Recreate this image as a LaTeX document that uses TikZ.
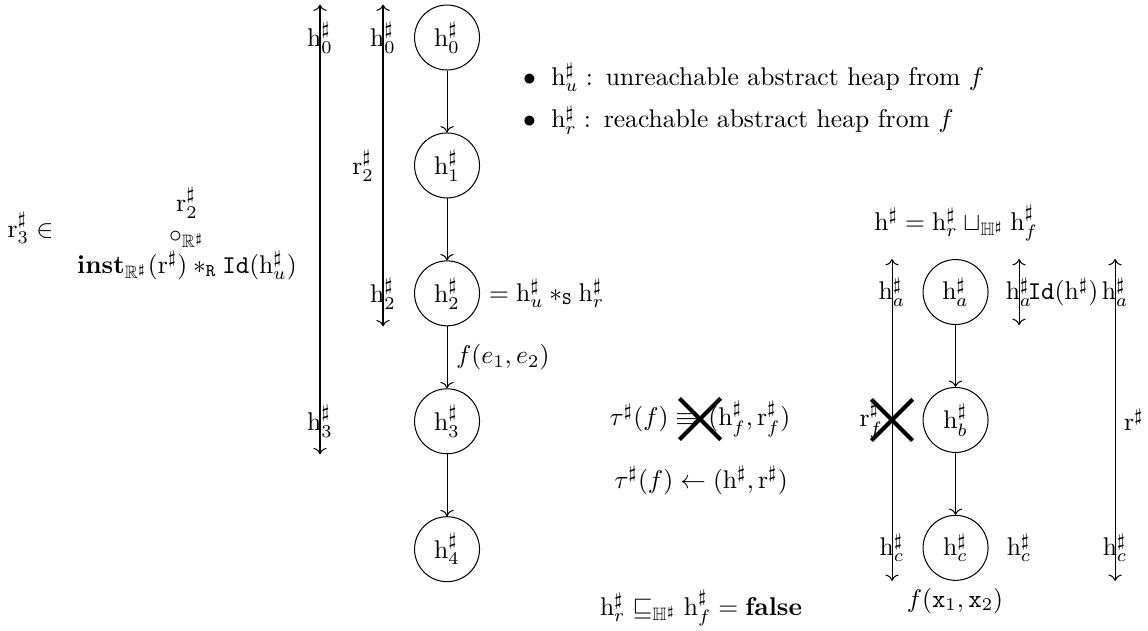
\documentclass[tikz,border=0pt]{standalone}
\usepackage{amsmath, amssymb}
\usepackage{tikz}
\usetikzlibrary{arrows.meta, positioning, shapes.misc}

\newcommand{\absh}{\mathrm{h}^{\sharp}}
\newcommand{\absr}{\mathrm{r}^{\sharp}}

\begin{document}
\begin{tikzpicture}[
  heap/.style={draw, circle, minimum size=0.892cm, inner sep=0pt},
  flow/.style={->},
  span/.style={<->},
  nope/.style={draw, cross out, ultra thick, minimum size=0.51cm, inner sep=0pt},
]
  \useasboundingbox (0,0) rectangle (15.76,-8.65);

  % caller side
  \node[heap] (h0) at (6.137,-0.515) {$\absh_0$};
  \node[heap, below=0.85cm of h0] (h1) {$\absh_1$};
  \node[heap, below=0.85cm of h1] (h2) {$\absh_2$};
  \node[heap, below=0.85cm of h2] (h3) {$\absh_3$};
  \node[heap, below=0.85cm of h3] (h4) {$\absh_4$};

  \draw[flow] (h0) -- (h1);
  \draw[flow] (h1) -- (h2);
  \draw[flow] (h2) -- node[right] {$f(e_1, e_2)$} (h3);
  \draw[flow] (h3) -- (h4);
  \node[anchor=west] (split) at (h2.east) {$= \absh_u *_{\mathtt{S}} \absh_r$};

  \draw[span] ([xshift=-1.744cm]h0.north) -- ([xshift=-1.744cm]h3.south);
  \node (s0) at ([xshift=-1.744cm]h0) {$\absh_0$};
  \node (s3) at ([xshift=-1.744cm]h3) {$\absh_3$};

  \draw[span] ([xshift=-0.879cm]h0.north) -- ([xshift=-0.879cm]h2.south);
  \node (t0) at ([xshift=-0.879cm]h0) {$\absh_0$};
  \node[left] (t1) at ([xshift=-0.879cm]h1) {$\absr_2$};
  \node (t2) at ([xshift=-0.879cm]h2) {$\absh_2$};

  \node[anchor=base] (r3) at (0.419,-3.254) {$\absr_3 \in$};
  \node[align=center] (comp) at (2.567,-3.2) {$\absr_2$\\ $\circ_{\mathbb{R}^\sharp}$\\
    $\mathbf{inst}_{\mathbb{R}^\sharp}(\absr) *_{\mathtt{R}} \mathtt{Id}(\absh_u)$};

  \node[anchor=base west] (leg1) at (7.057,-1.167)
    {$\bullet$\hspace{6pt}$\absh_u :$\enspace unreachable abstract heap from $f$};
  \node[anchor=base west] (leg2) at (7.057,-1.757)
    {$\bullet$\hspace{6pt}$\absh_r :$\enspace reachable abstract heap from $f$};

  % summary of f
  \node (tauold) at (9.61,-5.752) {$\tau^\sharp(f) \Rrightarrow (\absh_f, \absr_f)$};
  \node[nope] (x1) at (tauold) {};
  \node[anchor=base] (taunew) at (9.624,-6.70) {$\tau^\sharp(f) \leftarrow (\absh, \absr)$};
  \node[anchor=base] (check) at (9.624,-8.443)
    {$\absh_r \sqsubseteq_{\mathbb{H}^\sharp} \absh_f = \mathbf{false}$};

  % callee side
  \node[heap] (ha) at (13.118,-4.009) {$\absh_a$};
  \node[heap, below=0.85cm of ha] (hb) {$\absh_b$};
  \node[heap, below=0.85cm of hb] (hc) {$\absh_c$};

  \draw[flow] (ha) -- (hb);
  \draw[flow] (hb) -- (hc);
  \node[anchor=base] (join) at (13.125,-3.158)
    {$\absh = \absh_r \sqcup_{\mathbb{H}^\sharp} \absh_f$};
  \node[anchor=base] (call) at (13.11,-8.333) {$f(\mathtt{x}_1, \mathtt{x}_2)$};

  \draw[span] ([xshift=-0.872cm]ha.north) -- ([xshift=-0.872cm]hc.south);
  \node (u0) at ([xshift=-0.872cm]ha) {$\absh_a$};
  \node[left] (u1) at ([xshift=-0.872cm]hb) {$\absr_f$};
  \node[nope] (x2) at ([xshift=-0.872cm]hb) {};
  \node (u2) at ([xshift=-0.872cm]hc) {$\absh_c$};

  \draw[span] ([xshift=0.872cm]ha.north) -- ([xshift=0.872cm]ha.south);
  \node (v0) at ([xshift=0.872cm]ha) {$\absh_a$};
  \node (v1) at ([xshift=1.476cm]ha) {$\mathtt{Id}(\absh)$};
  \node (v2) at ([xshift=0.872cm]hc) {$\absh_c$};

  \draw[span] ([xshift=2.19cm]ha.north) -- ([xshift=2.19cm]hc.south);
  \node (w0) at ([xshift=2.19cm]ha) {$\absh_a$};
  \node[right] (w1) at ([xshift=2.19cm]hb) {$\absr$};
  \node (w2) at ([xshift=2.19cm]hc) {$\absh_c$};
\end{tikzpicture}
\end{document}
